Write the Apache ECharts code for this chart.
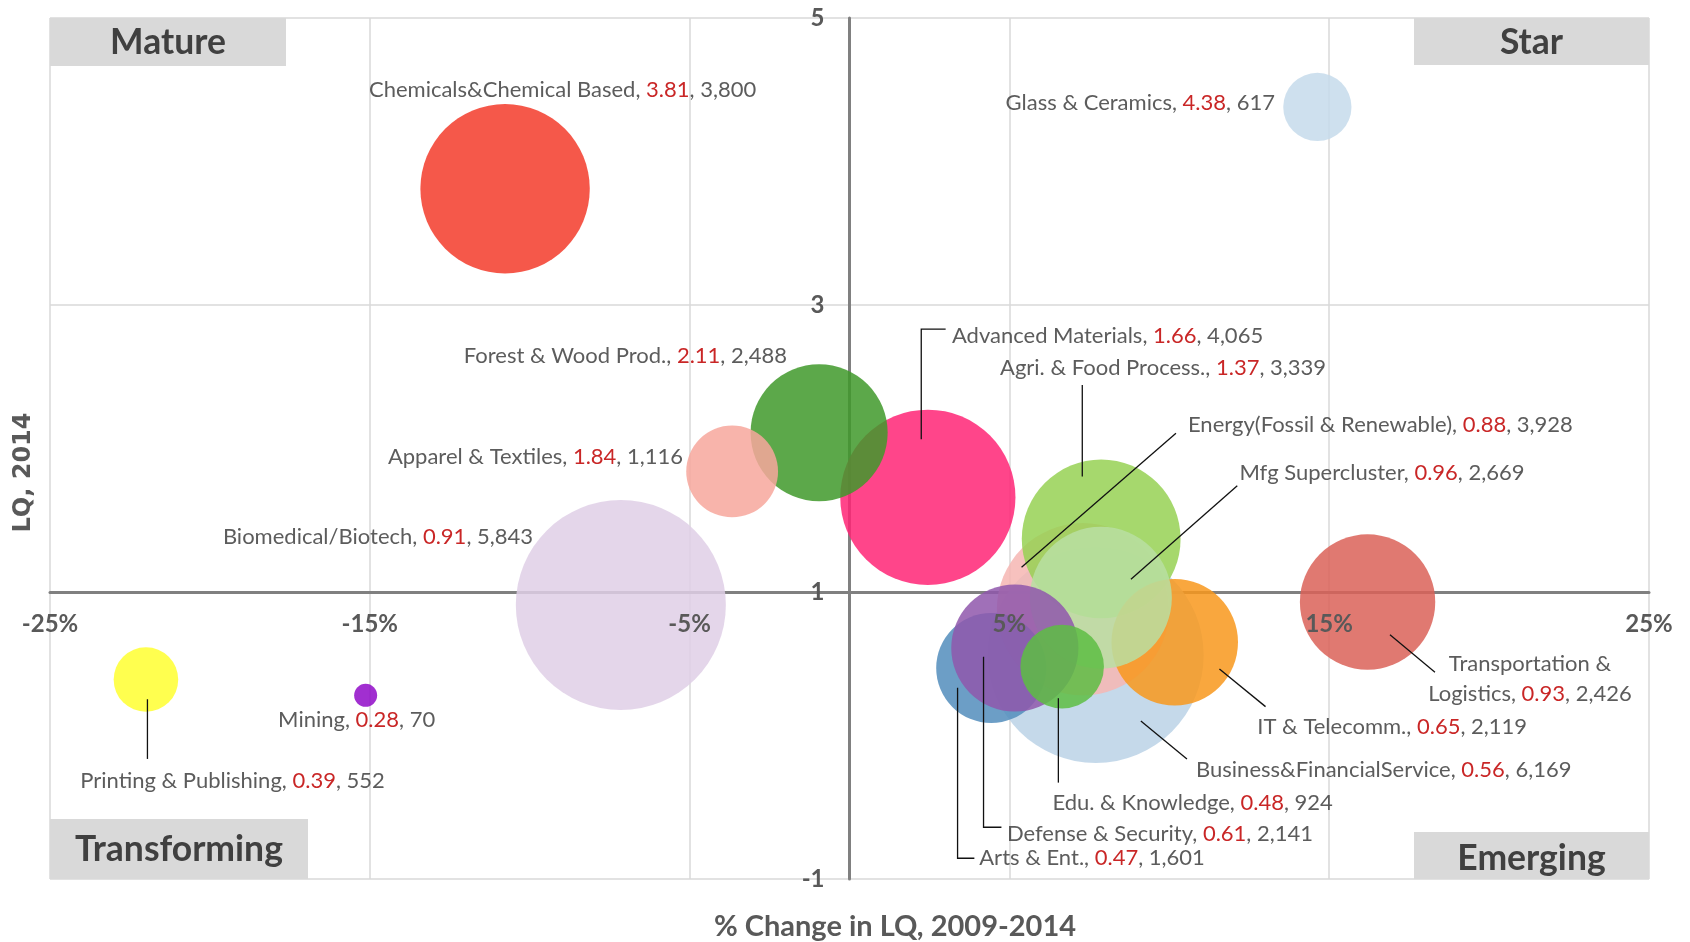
<!DOCTYPE html>
<html>
<head>
<meta charset="utf-8">
<script src="https://cdn.jsdelivr.net/npm/echarts@6/dist/echarts.min.js"></script>
<style>
  html, body { margin: 0; padding: 0; background: #ffffff; }
  #chart { width: 1690px; height: 942px; }
</style>
</head>
<body>
<div id="chart"></div>
<script>
// ---------------- DATA (drawing order) ----------------
const clusters = [
  'Business&FinancialService', 'Biomedical/Biotech', 'Advanced Materials',
  'Forest & Wood Prod.', 'Apparel & Textiles', 'Energy(Fossil & Renewable)',
  'Agri. & Food Process.', 'IT & Telecomm.', 'Mfg Supercluster',
  'Arts & Ent.', 'Defense & Security', 'Edu. & Knowledge',
  'Transportation & Logistics', 'Chemicals&Chemical Based', 'Glass & Ceramics',
  'Mining', 'Printing & Publishing'
];
// % change in LQ, 2009-2014 (x)
const lqChange = [7.70, -7.15, 2.45, -0.95, -3.67, 7.30, 7.87, 10.17, 7.86,
                  4.43, 5.17, 6.65, 16.2, -10.77, 14.63, -15.13, -22.0];
// LQ, 2014 (y)
const lq2014 = [0.56, 0.91, 1.66, 2.11, 1.84, 0.88, 1.37, 0.65, 0.96,
                0.47, 0.61, 0.48, 0.93, 3.81, 4.38, 0.28, 0.39];
// Employment (bubble size)
const employment = [6169, 5843, 4065, 2488, 1116, 3928, 3339, 2119, 2669,
                    1601, 2141, 924, 2426, 3800, 617, 70, 552];
const bubbleColors = ['#bbd2e6', '#dfcfe6', '#ff2475', '#40992a', '#f7a79c', '#f6b6b3',
                      '#96d154', '#f8981c', '#b8dfa2', '#528dbc', '#8f57ac', '#5dbd43',
                      '#db6258', '#f33b2a', '#c6dbeb', '#900ac8', '#ffff30'];
const xAxisRange = { min: -25, max: 25, interval: 10 };
const yAxisRange = { min: -1, max: 5, interval: 2 };
const quadrantNames = ['Mature', 'Star', 'Transforming', 'Emerging'];
const xTitle = '% Change in LQ, 2009-2014';
const yTitle = 'LQ, 2014';

// ---------------- LABEL PLACEMENT (pixel offsets from bubble centre) ----------------
const labelPlacement = [
  { dx: 100.3, dy: 114.8, align: 'left',  leader: [[45.1, 65.8], [91.2, 103.8]] },
  { dx: -87.8, dy: -68.3, align: 'right' },
  { dx: 24.1, dy: -161.7, align: 'left',  leader: [[-6.6, -58.1], [-6.6, -168.1], [17.8, -168.1]] },
  { dx: -32.1, dy: -77.2, align: 'right' },
  { dx: -49.1, dy: -14.9, align: 'right' },
  { dx: 105, dy: -184, align: 'left',     leader: [[93, -176], [-61.4, -42]] },
  { dx: -101.2, dy: -171.3, align: 'left', leader: [[-18.9, -154], [-18.9, -62.3]] },
  { dx: 82.6, dy: 85, align: 'left',      leader: [[44.7, 26.7], [90.8, 64.4]] },
  { dx: 138.6, dy: -124.5, align: 'left', leader: [[136.4, -112.1], [30.1, -18.5]] },
  { dx: -11.9, dy: 190.2, align: 'left',  leader: [[-33.6, 19.6], [-33.6, 190.2], [-16.8, 190.2]] },
  { dx: -7.9, dy: 186, align: 'left',     leader: [[-31.3, 8.7], [-31.3, 179.3], [-13.4, 179.3]] },
  { dx: -9.7, dy: 136.6, align: 'left',   leader: [[-3.8, 31.6], [-3.8, 116]] },
  { dx: 162.4, dy: 76.8, align: 'center', br: 'Transportation &', leader: [[22.4, 32.8], [67.4, 70.1]] },
  { dx: 57.5, dy: -99, align: 'center' },
  { dx: -42.4, dy: -4.2, align: 'right' },
  { dx: -9, dy: 24.6, align: 'center' },
  { dx: 86.6, dy: 101.1, align: 'center', leader: [[1.5, 19.7], [1.5, 79.4]] }
];

const LABEL_FONT = 'Lato';
const LABEL_SIZE = 22;
const grid = { left: 50, right: 41, top: 18, bottom: 63 };
const gridW = 1690 - grid.left - grid.right;
const gridH = 942 - grid.top - grid.bottom;
// put the crossing axes at x = 0 and y = 1
const xAxisOffset = -gridH * (1 - yAxisRange.min) / (yAxisRange.max - yAxisRange.min);
const yAxisOffset = -gridW * (0 - xAxisRange.min) / (xAxisRange.max - xAxisRange.min);

const seriesData = clusters.map((n, i) => ({
  name: n,
  value: [lqChange[i], lq2014[i], employment[i]],
  itemStyle: { color: bubbleColors[i] }
}));

function fmtInt(v) { return v.toLocaleString('en-US'); }

const tickFont = { color: '#595959', fontFamily: LABEL_FONT, fontWeight: 'bold', fontSize: 24 };

const option = {
  animation: false,
  backgroundColor: '#ffffff',
  grid: { left: grid.left, right: grid.right, top: grid.top, bottom: grid.bottom },
  xAxis: [
    {
      type: 'value', min: xAxisRange.min, max: xAxisRange.max, interval: xAxisRange.interval,
      position: 'bottom', offset: xAxisOffset,
      axisLine: { show: true, onZero: false, lineStyle: { color: '#808080', width: 3 } },
      axisTick: { show: false }, axisLabel: { show: false },
      splitLine: { show: true, lineStyle: { color: '#d9d9d9', width: 1.5 } }
    },
    {
      type: 'value', min: xAxisRange.min, max: xAxisRange.max, interval: xAxisRange.interval,
      position: 'bottom', offset: xAxisOffset, z: 10,
      axisLine: { show: false, onZero: false }, axisTick: { show: false },
      splitLine: { show: false },
      axisLabel: Object.assign({ show: true, margin: 20, formatter: v => v + '%' }, tickFont)
    }
  ],
  yAxis: [
    {
      type: 'value', min: yAxisRange.min, max: yAxisRange.max, interval: yAxisRange.interval,
      position: 'left', offset: yAxisOffset,
      axisLine: { show: true, onZero: false, lineStyle: { color: '#808080', width: 3 } },
      axisTick: { show: false },
      axisLabel: Object.assign({ margin: 25 }, tickFont),
      splitLine: { show: true, lineStyle: { color: '#d9d9d9', width: 1.5 } }
    }
  ],
  series: [{
    type: 'scatter',
    xAxisIndex: 0, yAxisIndex: 0,
    data: seriesData,
    symbol: 'circle',
    symbolSize: v => 2.748 * Math.sqrt(v[2]),
    itemStyle: { opacity: 0.85 },
    emphasis: { disabled: true },
    label: {
      show: true,
      formatter: p => {
        const i = p.dataIndex;
        const L = labelPlacement[i];
        const tail = '{v|' + lq2014[i].toFixed(2) + '}{n|, ' + fmtInt(employment[i]) + '}';
        if (L.br) {
          const rest = clusters[i].slice(L.br.length).trim();
          return '{n|' + L.br + '}\n{n|' + rest + ', }' + tail;
        }
        return '{n|' + clusters[i] + ', }' + tail;
      },
      rich: {
        n: { color: '#404040', fontFamily: LABEL_FONT, fontSize: LABEL_SIZE, lineHeight: 30 },
        v: { color: '#c00000', fontFamily: LABEL_FONT, fontSize: LABEL_SIZE, lineHeight: 30 }
      }
    },
    labelLayout: p => {
      const L = labelPlacement[p.dataIndex];
      const cx = p.rect.x + p.rect.width / 2;
      const cy = p.rect.y + p.rect.height / 2;
      return { x: cx + L.dx, y: cy + L.dy, align: L.align, verticalAlign: 'middle' };
    }
  }]
};

const chart = echarts.init(document.getElementById('chart'), null, { renderer: 'canvas' });
chart.setOption(option);

// ---------------- annotations built through the chart's own scales ----------------
const toPx = (x, y) => chart.convertToPixel({ xAxisIndex: 0, yAxisIndex: 0 }, [x, y]);
const tl = toPx(xAxisRange.min, yAxisRange.max);
const br = toPx(xAxisRange.max, yAxisRange.min);
const graphics = [];

function quadBox(name, x, y, w, h, ty) {
  graphics.push({
    type: 'group', z: 5,
    children: [
      { type: 'rect', shape: { x: x, y: y, width: w, height: h }, style: { fill: '#d9d9d9' }, z: 5 },
      { type: 'text', x: x + w / 2, y: y + h / 2 + (ty || 0), z: 6,
        style: { text: name, align: 'center', verticalAlign: 'middle', fill: '#404040',
                 font: 'bold 35.5px ' + LABEL_FONT } }
    ]
  });
}
quadBox(quadrantNames[0], tl[0], tl[1], 236, 48, 1);
quadBox(quadrantNames[1], br[0] - 235, tl[1], 235, 47, 1);
quadBox(quadrantNames[2], tl[0], br[1] - 60, 258, 60, 1);
quadBox(quadrantNames[3], br[0] - 235, br[1] - 47, 235, 47, 3);

// axis titles
graphics.push({ type: 'text', x: 895, y: 927, z: 5,
  style: { text: xTitle, align: 'center', verticalAlign: 'middle', fill: '#595959',
           font: 'bold 29px ' + LABEL_FONT } });
graphics.push({ type: 'text', x: 24, y: 472.5, rotation: Math.PI / 2, z: 5,
  style: { text: yTitle, align: 'center', verticalAlign: 'middle', fill: '#595959',
           font: 'bold 24px "DejaVu Sans"' } });

// leader lines
clusters.forEach((n, i) => {
  const L = labelPlacement[i];
  if (!L.leader) return;
  const c = toPx(lqChange[i], lq2014[i]);
  graphics.push({
    type: 'polyline', z: 20, silent: true,
    shape: { points: L.leader.map(o => [c[0] + o[0], c[1] + o[1]]) },
    style: { stroke: '#111111', lineWidth: 1.3, fill: null }
  });
});

chart.setOption({ graphic: graphics });
</script>
</body>
</html>
